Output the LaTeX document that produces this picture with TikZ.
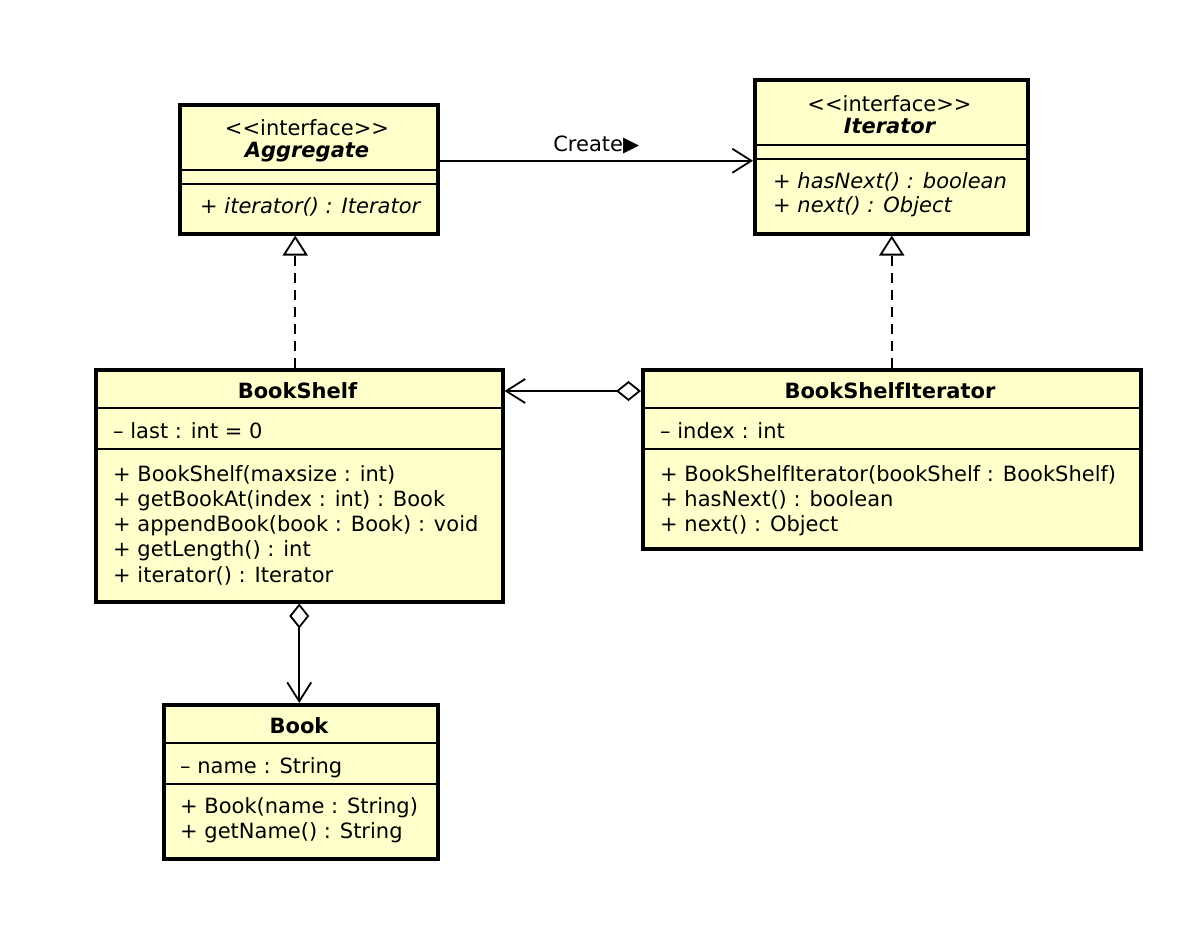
\documentclass[tikz,border=0pt]{standalone}
\usepackage{fontspec}
\setmainfont{DejaVu Sans}
\usetikzlibrary{arrows.meta}

\definecolor{classfill}{RGB}{255,255,204}
\newcommand\umlfont{\fontsize{21}{25.5}\selectfont}

\tikzset{
	classbox/.style={draw, line width=3.5pt, fill=classfill, anchor=north west, inner sep=0pt},
	classname/.style={anchor=base, inner sep=0pt, font=\umlfont\bfseries},
	stereo/.style={anchor=base, inner sep=0pt},
	member/.style={anchor=base west, inner sep=0pt},
	sepline/.style={line width=1.7pt},
	conn/.style={line width=1.8pt},
	realize/.style={conn, dash pattern=on 10pt off 7pt, -{Triangle[open, length=20pt, width=25pt, fill=white]}},
	assoc/.style={conn, -{Straight Barb[length=19pt, width=24pt]}},
	aggr/.style={conn, {Diamond[open, length=25pt, width=20pt, fill=white]}-{Straight Barb[length=19pt, width=24pt]}},
}

\begin{document}
\begin{tikzpicture}[x=1pt, y=-1pt, font=\umlfont]
	\useasboundingbox (0,0) rectangle (1200,927);

	% class boxes
	\node[classbox, minimum width=258pt, minimum height=129pt] (aggregate) at (178,103) {};
	\node[classbox, minimum width=273pt, minimum height=154pt] (iterator) at (753,78) {};
	\node[classbox, minimum width=407pt, minimum height=232pt] (bookshelf) at (94,368) {};
	\node[classbox, minimum width=498pt, minimum height=179pt] (bsiter) at (641,368) {};
	\node[classbox, minimum width=274pt, minimum height=154pt] (book) at (162,703) {};

	\foreach \n/\ya/\yb in {aggregate/170/184, iterator/145/159, bookshelf/408/449, bsiter/408/449, book/743/784}
	{
		\draw[sepline] (\n.west |- 0,\ya) -- (\n.east |- 0,\ya);
		\draw[sepline] (\n.west |- 0,\yb) -- (\n.east |- 0,\yb);
	}

	% Aggregate
	\node[stereo] (agg-stereo) at (307,135) {<{}<interface>{}>};
	\node[classname, font=\umlfont\bfseries\itshape] (agg-name) at (307,157) {Aggregate};
	\node[member, font=\umlfont\itshape] (agg-op) at (200,213) {+ iterator() : Iterator};

	% Iterator
	\node[stereo] (it-stereo) at (889.5,111) {<{}<interface>{}>};
	\node[classname, font=\umlfont\bfseries\itshape] (it-name) at (889.5,133) {Iterator};
	\foreach \txt [count=\i from 0] in {+ hasNext() : boolean, + next() : Object}
	{
		\node[member, font=\umlfont\itshape] (it-op-\i) at (773,{188+24*\i}) {\txt};
	}

	% BookShelf
	\node[classname] (bs-name) at (297.5,398) {BookShelf};
	\node[member] (bs-attr) at (113,438) {– last : int = 0};
	\foreach \txt [count=\i from 0] in {+ BookShelf(maxsize : int), + getBookAt(index : int) : Book, + appendBook(book : Book) : void, + getLength() : int, + iterator() : Iterator}
	{
		\node[member] (bs-op-\i) at (113,{481+25.25*\i}) {\txt};
	}

	% BookShelfIterator
	\node[classname] (bsi-name) at (890,398) {BookShelfIterator};
	\node[member] (bsi-attr) at (660,438) {– index : int};
	\foreach \txt [count=\i from 0] in {+ BookShelfIterator(bookShelf : BookShelf), + hasNext() : boolean, + next() : Object}
	{
		\node[member] (bsi-op-\i) at (660,{481+25*\i}) {\txt};
	}

	% Book
	\node[classname] (book-name) at (299,733) {Book};
	\node[member] (book-attr) at (180,773) {– name : String};
	\foreach \txt [count=\i from 0] in {+ Book(name : String), + getName() : String}
	{
		\node[member] (book-op-\i) at (180,{813+25*\i}) {\txt};
	}

	% relations
	\draw[assoc] ([yshift=8.5pt]aggregate.east) -- ([yshift=8.5pt]aggregate.east -| iterator.west)
		node[midway, above=6pt, inner sep=0pt] (create) {Create▶};
	\draw[realize] ([xshift=-4pt]bookshelf.north) -- ([xshift=-4pt]bookshelf.north |- aggregate.south);
	\draw[realize] (bsiter.north) -- (bsiter.north |- iterator.south);
	\draw[aggr] ([yshift=-23pt]bsiter.north west) -- ([yshift=-23pt]bsiter.north west -| bookshelf.east);
	\draw[aggr] (bookshelf.south) -- (bookshelf.south |- book.north);

\end{tikzpicture}
\end{document}
